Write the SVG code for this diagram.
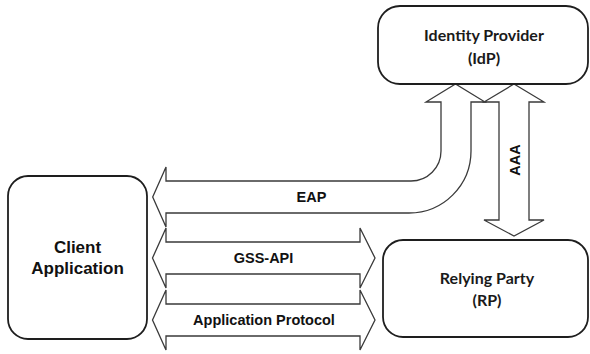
<svg xmlns="http://www.w3.org/2000/svg" width="590" height="354" viewBox="0 0 590 354">
  <style>
    .box { fill: #ffffff; stroke: #1e1e1e; stroke-width: 1.8; }
    .arrow { fill: #ffffff; stroke: #3a3a3a; stroke-width: 1.3; stroke-linejoin: miter; }
    .node-label { font-family: Lato, "Open Sans", "Noto Sans", sans-serif; font-weight: bold; font-size: 16px; fill: #1a1a1a; text-anchor: middle; }
    .client-label { font-family: "Liberation Sans", Arial, sans-serif; font-weight: bold; font-size: 17px; fill: #111; text-anchor: middle; }
    .edge-label { font-family: "Liberation Sans", Arial, sans-serif; font-weight: bold; font-size: 14.5px; fill: #111; text-anchor: middle; }
  </style>
  <rect width="590" height="354" fill="#ffffff"/>

  <g id="connectors">
    <g id="eap">
      <path class="arrow" d="M152.7,197 L166,167 L166,181 L411,181 A30,30 0 0 0 441,151 L441,102 L426,102 L455.5,84 L485,102 L471,102 L471,151 A62,62 0 0 1 409,213 L166,213 L166,227 Z"/>
      <text class="edge-label" x="311.5" y="202">EAP</text>
    </g>
    <g id="aaa">
      <path class="arrow" d="M514,84 L544,102 L529,102 L529,220 L544,220 L514,236 L484,220 L499,220 L499,102 L484,102 Z"/>
      <text class="edge-label" transform="translate(520,160) rotate(-90)" x="0" y="0">AAA</text>
    </g>
    <g id="gss-api">
      <path class="arrow" d="M152.5,258 L166,228 L166,242 L360,242 L360,228 L375,258 L360,288 L360,274 L166,274 L166,288 Z"/>
      <text class="edge-label" x="263.5" y="263">GSS-API</text>
    </g>
    <g id="app-protocol">
      <path class="arrow" d="M152.5,320 L166,290 L166,304 L360,304 L360,290 L375,320 L360,350 L360,336 L166,336 L166,350 Z"/>
      <text class="edge-label" x="264" y="325">Application Protocol</text>
    </g>
  </g>

  <g id="idp">
    <rect class="box" x="378" y="6" width="210" height="78" rx="22" ry="22"/>
    <text class="node-label" x="484" y="41">Identity Provider</text>
    <text class="node-label" x="484" y="64">(IdP)</text>
  </g>

  <g id="rp">
    <rect class="box" x="383" y="240" width="205" height="97" rx="20" ry="20"/>
    <text class="node-label" x="487" y="284">Relying Party</text>
    <text class="node-label" x="487" y="306">(RP)</text>
  </g>

  <g id="client">
    <rect class="box" x="8" y="176" width="139" height="163" rx="20" ry="20"/>
    <text class="client-label" x="77.5" y="253">Client</text>
    <text class="client-label" x="77.5" y="274">Application</text>
  </g>
</svg>
